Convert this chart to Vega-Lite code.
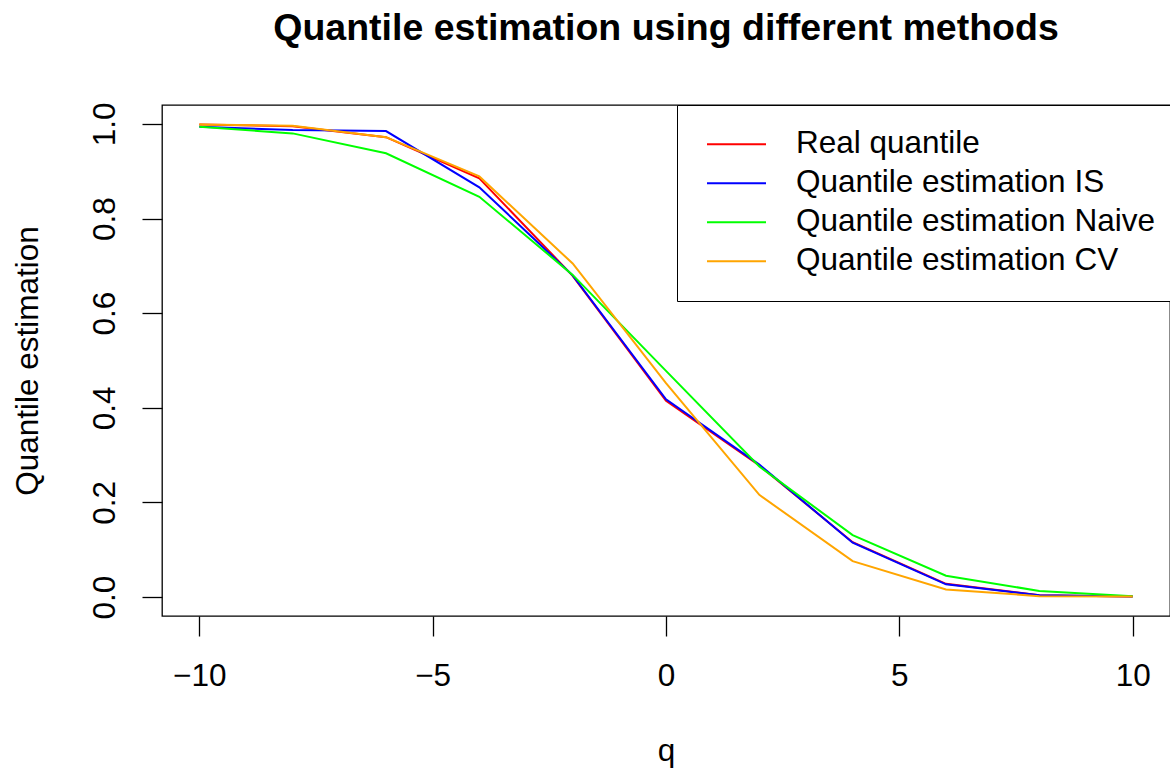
{
  "$schema": "https://vega.github.io/schema/vega-lite/v6.json",
  "width": 1008,
  "height": 511,
  "autosize": {"type": "none"},
  "padding": {"left": 162, "top": 105, "right": 0, "bottom": 153},
  "background": "white",
  "title": {
    "text": "Quantile estimation using different methods",
    "font": "Liberation Sans",
    "fontSize": 37.5,
    "fontWeight": "bold",
    "color": "black",
    "anchor": "middle",
    "frame": "group",
    "baseline": "alphabetic",
    "offset": 25
  },
  "config": {
    "view": {"stroke": "black", "strokeWidth": 1.3},
    "font": "Liberation Sans"
  },
  "data": {
    "values": [
      {"q": -10, "series": "Real quantile", "value": 0.999},
      {"q": -8, "series": "Real quantile", "value": 0.995},
      {"q": -6, "series": "Real quantile", "value": 0.972},
      {"q": -4, "series": "Real quantile", "value": 0.885},
      {"q": -2, "series": "Real quantile", "value": 0.679},
      {"q": 0, "series": "Real quantile", "value": 0.415},
      {"q": 2, "series": "Real quantile", "value": 0.278},
      {"q": 4, "series": "Real quantile", "value": 0.116},
      {"q": 6, "series": "Real quantile", "value": 0.028},
      {"q": 8, "series": "Real quantile", "value": 0.004},
      {"q": 10, "series": "Real quantile", "value": 0.001},
      {"q": -10, "series": "Quantile estimation IS", "value": 0.994},
      {"q": -8, "series": "Quantile estimation IS", "value": 0.987},
      {"q": -6, "series": "Quantile estimation IS", "value": 0.985},
      {"q": -4, "series": "Quantile estimation IS", "value": 0.866},
      {"q": -2, "series": "Quantile estimation IS", "value": 0.680},
      {"q": 0, "series": "Quantile estimation IS", "value": 0.418},
      {"q": 2, "series": "Quantile estimation IS", "value": 0.280},
      {"q": 4, "series": "Quantile estimation IS", "value": 0.115},
      {"q": 6, "series": "Quantile estimation IS", "value": 0.027},
      {"q": 8, "series": "Quantile estimation IS", "value": 0.004},
      {"q": 10, "series": "Quantile estimation IS", "value": 0.001},
      {"q": -10, "series": "Quantile estimation Naive", "value": 0.994},
      {"q": -8, "series": "Quantile estimation Naive", "value": 0.980},
      {"q": -6, "series": "Quantile estimation Naive", "value": 0.938},
      {"q": -4, "series": "Quantile estimation Naive", "value": 0.846},
      {"q": -2, "series": "Quantile estimation Naive", "value": 0.681},
      {"q": 0, "series": "Quantile estimation Naive", "value": 0.478},
      {"q": 2, "series": "Quantile estimation Naive", "value": 0.276},
      {"q": 4, "series": "Quantile estimation Naive", "value": 0.131},
      {"q": 6, "series": "Quantile estimation Naive", "value": 0.045},
      {"q": 8, "series": "Quantile estimation Naive", "value": 0.013},
      {"q": 10, "series": "Quantile estimation Naive", "value": 0.002},
      {"q": -10, "series": "Quantile estimation CV", "value": 0.999},
      {"q": -8, "series": "Quantile estimation CV", "value": 0.996},
      {"q": -6, "series": "Quantile estimation CV", "value": 0.972},
      {"q": -4, "series": "Quantile estimation CV", "value": 0.889},
      {"q": -2, "series": "Quantile estimation CV", "value": 0.705},
      {"q": 0, "series": "Quantile estimation CV", "value": 0.452},
      {"q": 2, "series": "Quantile estimation CV", "value": 0.216},
      {"q": 4, "series": "Quantile estimation CV", "value": 0.076},
      {"q": 6, "series": "Quantile estimation CV", "value": 0.016},
      {"q": 8, "series": "Quantile estimation CV", "value": 0.002},
      {"q": 10, "series": "Quantile estimation CV", "value": 0.001}
    ]
  },
  "mark": {"type": "line", "strokeWidth": 2},
  "encoding": {
    "x": {
      "field": "q",
      "type": "quantitative",
      "scale": {"domain": [-10.8, 10.8], "nice": false, "zero": false},
      "axis": {
        "values": [-10, -5, 0, 5, 10],
        "domain": false,
        "grid": false,
        "tickSize": 20,
        "tickColor": "black",
        "tickWidth": 1.3,
        "labelFont": "Liberation Sans",
        "labelFontSize": 31.5,
        "labelColor": "black",
        "labelBaseline": "middle",
        "labelPadding": 40,
        "labelFlush": false,
        "labelOverlap": false,
        "title": "q",
        "titleFont": "Liberation Sans",
        "titleFontSize": 31.5,
        "titleFontWeight": "normal",
        "titleColor": "black",
        "titleX": 504,
        "titleY": 144,
        "titleBaseline": "alphabetic",
        "titleAlign": "center"
      }
    },
    "y": {
      "field": "value",
      "type": "quantitative",
      "scale": {"domain": [-0.04, 1.04], "nice": false, "zero": false},
      "axis": {
        "values": [0, 0.2, 0.4, 0.6, 0.8, 1.0],
        "format": ".1f",
        "domain": false,
        "grid": false,
        "tickSize": 20,
        "tickColor": "black",
        "tickWidth": 1.3,
        "labelFont": "Liberation Sans",
        "labelFontSize": 31.5,
        "labelColor": "black",
        "labelAngle": -90,
        "labelAlign": "center",
        "labelBaseline": "middle",
        "labelPadding": 37,
        "labelOverlap": false,
        "title": "Quantile estimation",
        "titleFont": "Liberation Sans",
        "titleFontSize": 31.5,
        "titleFontWeight": "normal",
        "titleColor": "black",
        "titleAngle": -90,
        "titleX": -134,
        "titleY": 255.5,
        "titleAlign": "center",
        "titleBaseline": "middle"
      }
    },
    "color": {
      "field": "series",
      "type": "nominal",
      "sort": ["Real quantile", "Quantile estimation IS", "Quantile estimation Naive", "Quantile estimation CV"],
      "scale": {
        "domain": ["Real quantile", "Quantile estimation IS", "Quantile estimation Naive", "Quantile estimation CV"],
        "range": ["#FF0000", "#0000FF", "#00FF00", "#FFA500"]
      },
      "legend": {
        "title": null,
        "orient": "none",
        "legendX": 515,
        "legendY": 0,
        "strokeColor": "black",
        "fillColor": "white",
        "padding": 20,
        "clipHeight": 38.4,
        "symbolType": "stroke",
        "symbolSize": 3481,
        "symbolStrokeWidth": 2,
        "symbolOffset": 9,
        "labelFont": "Liberation Sans",
        "labelFontSize": 31.5,
        "labelColor": "black",
        "labelOffset": 29,
        "labelLimit": 600,
        "rowPadding": 0
      }
    },
    "order": {"field": "q", "type": "quantitative"}
  }
}
